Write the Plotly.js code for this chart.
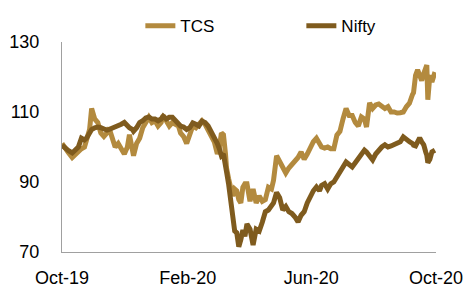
<!DOCTYPE html>
<html>
<head>
<meta charset="utf-8">
<script src="https://cdn.plot.ly/plotly-3.0.1.min.js"></script>
<style>html,body{margin:0;padding:0;background:#fff;}#chart{width:467px;height:287px;}</style>
</head>
<body>
<div id="chart"></div>
<script>
const dates = ["2019-10-01","2019-10-04","2019-10-07","2019-10-11","2019-10-14","2019-10-17","2019-10-20","2019-10-23","2019-10-25","2019-10-28","2019-10-30","2019-11-02","2019-11-05","2019-11-08","2019-11-11","2019-11-14","2019-11-16","2019-11-19","2019-11-22","2019-11-25","2019-11-28","2019-12-01","2019-12-04","2019-12-06","2019-12-09","2019-12-10","2019-12-13","2019-12-16","2019-12-19","2019-12-22","2019-12-25","2019-12-28","2019-12-31","2020-01-03","2020-01-06","2020-01-08","2020-01-11","2020-01-14","2020-01-17","2020-01-20","2020-01-23","2020-01-25","2020-01-28","2020-01-31","2020-02-03","2020-02-06","2020-02-09","2020-02-12","2020-02-15","2020-02-18","2020-02-21","2020-02-24","2020-02-27","2020-03-01","2020-03-03","2020-03-05","2020-03-07","2020-03-09","2020-03-10","2020-03-12","2020-03-14","2020-03-16","2020-03-18","2020-03-20","2020-03-22","2020-03-24","2020-03-26","2020-03-28","2020-03-30","2020-04-02","2020-04-05","2020-04-08","2020-04-11","2020-04-14","2020-04-17","2020-04-20","2020-04-23","2020-04-25","2020-04-28","2020-05-01","2020-05-04","2020-05-07","2020-05-10","2020-05-13","2020-05-16","2020-05-19","2020-05-22","2020-05-25","2020-05-28","2020-05-31","2020-06-03","2020-06-06","2020-06-09","2020-06-11","2020-06-14","2020-06-17","2020-06-20","2020-06-23","2020-06-26","2020-06-29","2020-07-02","2020-07-05","2020-07-08","2020-07-11","2020-07-14","2020-07-17","2020-07-20","2020-07-23","2020-07-25","2020-07-28","2020-07-31","2020-08-03","2020-08-06","2020-08-09","2020-08-12","2020-08-15","2020-08-18","2020-08-21","2020-08-24","2020-08-27","2020-08-30","2020-09-02","2020-09-05","2020-09-08","2020-09-09","2020-09-11","2020-09-13","2020-09-15","2020-09-17","2020-09-19","2020-09-21","2020-09-22","2020-09-23","2020-09-25","2020-09-27","2020-09-30"];

const tcs = [101,100,98.5,97,98,99,99.5,100,102,105,111,108,107,104,103,104,105.5,103,100,101,99.5,98,100,103.5,99,97.5,101,102.5,105.5,107,108.5,107,107.5,106,107,109,107.5,106,107,106.5,106,104,103,101,103.5,106,105.5,106.5,107.5,106.5,105,103,101.5,98,100,104,103.5,98,94,91,88,86,88,87.5,85,84,88.5,89.5,89.5,84.5,88,84,86,84.5,85,88.5,88,90.5,97.5,96,94.3,92.6,94,95,96.5,97,98.6,96.5,98,100,101.5,102.5,101,100,99.7,100,99.5,99.5,103.4,104.5,108,111,109,109,107,106,108.6,108,105.7,112.6,111,112,112.3,111.5,111,111.5,110,110,109.7,109.8,110,111.5,112.5,115,115.5,120.5,122,120.5,119,121,122.5,123.4,113.5,120.5,118.6,121.4];

const nifty = [100.5,99.5,99,98.3,99,100,102.5,102,102.5,104,105,105.5,105.7,105.5,105,104.8,105,105.3,105.6,106,106.5,107,106,105.5,105,104.5,105.5,107,107.5,108.3,108.6,108,108,107.5,108,108.8,108,108.5,108.5,107.5,107,106,105.7,105,105.5,106.9,106.5,106,107.4,107,106,104.5,103,101,99.5,97.5,98,95.5,93,89.5,84.5,80,76,75.5,71.5,73.5,76.3,74.5,78,76.5,72,76.5,76,78.5,81.5,82,83,84,87,85.5,82,83,81.5,81,80,78.6,80.5,81.5,84,86,87.5,88.6,87.5,89,89.5,88,89.5,90,91.4,93.4,94.5,95.7,95,94.3,95.5,96.9,98,99.1,98.6,97.5,96.3,98,99.1,100,100.6,100,100.3,100.6,101,101.5,102.9,102,101.5,101,100.5,100.3,101.5,102.6,101.5,100.6,98.5,97.7,95.5,96.5,98.6,99.1];

const xTickVals = ["2019-10-01","2020-02-01","2020-06-01","2020-10-01"];
const xTickText = ["Oct-19","Feb-20","Jun-20","Oct-20"];
const yTickVals = [70,90,110,130];

const FONT = "Liberation Sans, Arial, sans-serif";

const traces = [
  {x: dates, y: tcs, name: "TCS", type: "scatter", mode: "lines",
   line: {color: "#B38A3E", width: 5}},
  {x: dates, y: nifty, name: "Nifty", type: "scatter", mode: "lines",
   line: {color: "#7F5B1E", width: 5}}
];

const layout = {
  width: 467, height: 287,
  margin: {l: 62, r: 31, t: 42, b: 35, autoexpand: false},
  paper_bgcolor: "#fff", plot_bgcolor: "#fff",
  font: {family: FONT, size: 18, color: "#000"},
  showlegend: true,
  legend: {orientation: "h", x: 0.64, xanchor: "center", y: 1.075, yanchor: "middle",
           font: {size: 17}, entrywidth: 116, entrywidthmode: "pixels",
           bgcolor: "rgba(0,0,0,0)"},
  xaxis: {type: "date", range: ["2019-10-01","2020-10-01"],
          tickvals: xTickVals, ticktext: xTickText,
          showgrid: false, zeroline: false, showline: true, linecolor: "#A0A0A0", linewidth: 1,
          ticks: "outside", ticklen: 9, tickcolor: "rgba(0,0,0,0)",
          tickfont: {size: 18}},
  yaxis: {range: [70,130], tickvals: yTickVals, showgrid: false, zeroline: false,
          showline: true, linecolor: "#A0A0A0", linewidth: 1,
          ticks: "outside", ticklen: 18, tickcolor: "rgba(0,0,0,0)",
          tickfont: {size: 18}}
};

Plotly.newPlot("chart", traces, layout, {displayModeBar: false, staticPlot: true});
</script>
</body>
</html>
